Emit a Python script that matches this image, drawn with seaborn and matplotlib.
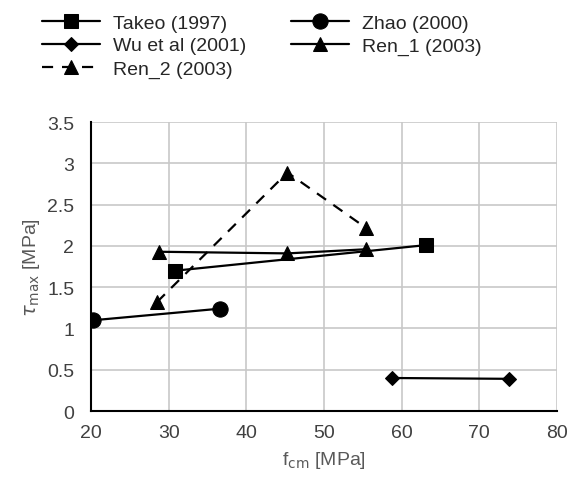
import pandas as pd
import seaborn as sns
import matplotlib.pyplot as plt

# data
takeo_x = [30.8, 63.1]
takeo_y = [1.70, 2.01]
zhao_x = [20.3, 36.6]
zhao_y = [1.10, 1.24]
wu_x = [58.8, 73.8]
wu_y = [0.40, 0.39]
ren1_x = [28.7, 45.3, 55.4]
ren1_y = [1.93, 1.91, 1.96]
ren2_x = [28.5, 45.3, 55.4]
ren2_y = [1.32, 2.89, 2.22]

series = [
    ('Takeo (1997)', takeo_x, takeo_y, 's', '-', 10.5),
    ('Zhao (2000)', zhao_x, zhao_y, 'o', '-', 11),
    ('Wu et al (2001)', wu_x, wu_y, 'D', '-', 7.5),
    ('Ren_1 (2003)', ren1_x, ren1_y, '^', '-', 10.5),
    ('Ren_2 (2003)', ren2_x, ren2_y, '^', '--', 10.5),
]

sns.set_style('white')
plt.rcParams['font.family'] = ['Liberation Sans', 'DejaVu Sans']

fig = plt.figure(figsize=(5.7, 4.85), dpi=100)
ax = fig.add_axes([0.1596, 0.1505, 0.8174, 0.5955])

for name, xs, ys, mk, ls, ms in series:
    df = pd.DataFrame({'x': xs, 'y': ys})
    sns.lineplot(data=df, x='x', y='y', sort=False, ax=ax, color='black',
                 marker=mk, markersize=ms, linestyle=ls, linewidth=1.6,
                 markeredgecolor='black', label=name, dashes=False)

# dashed line style for Ren_2
ax.lines[-1].set_dashes([5, 4])

ax.set_xlim(20, 80)
ax.set_ylim(0, 3.5)
ax.set_xticks(range(20, 81, 10))
ax.set_yticks([0, 0.5, 1, 1.5, 2, 2.5, 3, 3.5])
ax.set_yticklabels(['0', '0.5', '1', '1.5', '2', '2.5', '3', '3.5'])
ax.grid(True, color='#c8c8c8', linewidth=1.2)
ax.set_axisbelow(True)
for s in ['top', 'right']:
    ax.spines[s].set_visible(False)
for s in ['left', 'bottom']:
    ax.spines[s].set_color('black')
    ax.spines[s].set_linewidth(1.5)
ax.tick_params(axis='both', labelsize=14, colors='#404040', length=0)
ax.tick_params(axis='x', pad=9)
ax.tick_params(axis='y', pad=12)

ax.set_xlabel('f$_\\mathrm{cm}$ [MPa]', fontsize=14, color='#595959', labelpad=6)
ax.set_ylabel('$\\tau_\\mathrm{max}$ [MPa]', fontsize=14, color='#595959', labelpad=4)

handles, labels = ax.get_legend_handles_labels()
ax.get_legend().remove()
# row-major order: Takeo, Zhao / Wu, Ren_1 / Ren_2
order = [0, 2, 4, 1, 3]
fig.legend([handles[i] for i in order], [labels[i] for i in order], ncol=2,
           loc='upper left', bbox_to_anchor=(42 / 570, 1 - 15 / 485),
           frameon=False, fontsize=14, handlelength=3.0, columnspacing=2.3,
           labelspacing=0.27, handletextpad=0.65, borderpad=0, borderaxespad=0)

fig.savefig('out.png', dpi=100)
